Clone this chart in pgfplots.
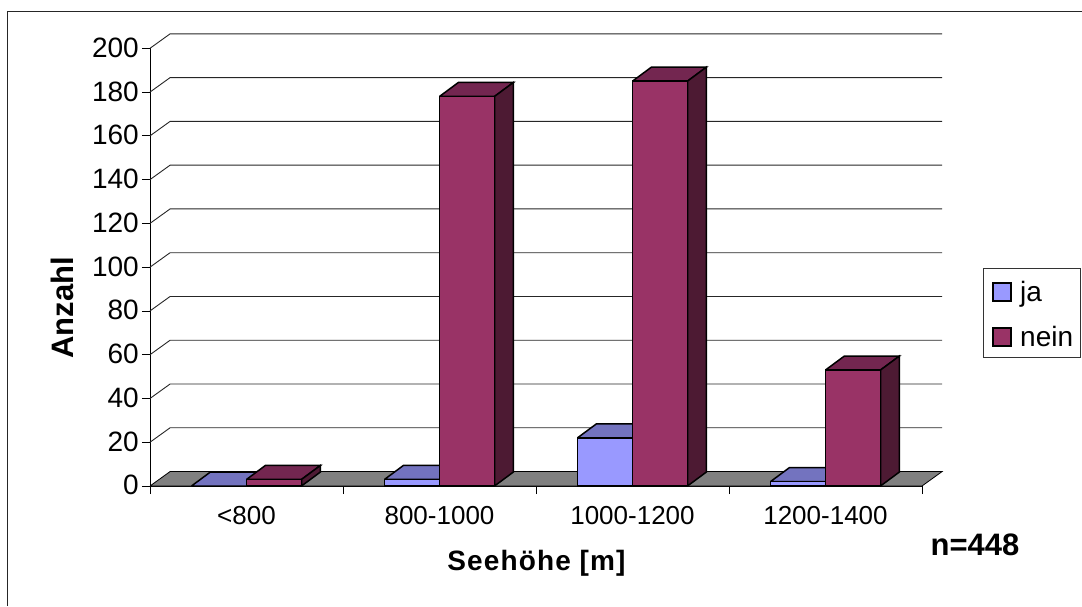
\documentclass[border=0pt]{standalone}
\usepackage{fontspec}
\setmainfont{Liberation Sans}
\usepackage{pgfplots}
\pgfplotsset{compat=1.18}
\definecolor{jaF}{HTML}{9999FF}\definecolor{jaT}{HTML}{7373BF}\definecolor{jaS}{HTML}{4D4D80}
\definecolor{neF}{HTML}{993366}\definecolor{neT}{HTML}{732650}\definecolor{neS}{HTML}{4D1A33}
\pgfplotsset{
 face/.style={forget plot,draw=black,line width=1.5pt,line join=miter,fill=#1},
 wall/.style={forget plot,draw=black!85,line width=0.9pt},
}
\begin{document}
\begin{tikzpicture}[x=1pt,y=1pt]
\path[use as bounding box] (0,0) rectangle (1082,-606);
\draw[black!85,line width=1pt] (7,-606) -- (7,-11) -- (1082,-11);
\begin{axis}[
  at={(150pt,-486pt)},anchor=south west,scale only axis,
  width=772pt,height=437.7pt,
  xmin=-0.5,xmax=3.5,ymin=0,ymax=200,clip=false,
  axis x line*=bottom,axis y line*=left,
  axis line style={-,black,line width=0.8pt},
  tick align=outside,tick style={black,line width=0.7pt},
  major tick length=8pt,
  xtick={-0.5,0.5,1.5,2.5,3.5},
  x tick label as interval,
  xticklabels={<800,800-1000,1000-1200,1200-1400},
  ytick={0,20,40,60,80,100,120,140,160,180,200},
  /pgf/number format/assume math mode=true,
  xticklabel style={font=\fontsize{26}{30}\selectfont,yshift=-9pt},
  yticklabel style={font=\fontsize{28}{32}\selectfont,inner sep=0pt,xshift=-3pt,yshift=0.7pt},
  xlabel={\addfontfeature{LetterSpace=4}Seehöhe [m]},
  ylabel={Anzahl},
  xlabel style={font=\fontsize{28}{32}\selectfont\bfseries,at={(axis description cs:0.5006,-0.176)},anchor=center},
  ylabel style={font=\fontsize{31}{36}\selectfont\bfseries,at={(axis description cs:-0.114,0.4067)},anchor=center},
]
% floor
\addplot[forget plot,fill=black!50,draw=black,line width=0.8pt] coordinates {(-0.5,0)(-0.396,6.6)(3.604,6.6)(3.5,0)(-0.5,0)};
% back wall grid lines
\addplot[wall] coordinates {(-0.5,20)(-0.396,26.6)(3.604,26.6)};
\addplot[wall] coordinates {(-0.5,40)(-0.396,46.6)(3.604,46.6)};
\addplot[wall] coordinates {(-0.5,60)(-0.396,66.6)(3.604,66.6)};
\addplot[wall] coordinates {(-0.5,80)(-0.396,86.6)(3.604,86.6)};
\addplot[wall] coordinates {(-0.5,100)(-0.396,106.6)(3.604,106.6)};
\addplot[wall] coordinates {(-0.5,120)(-0.396,126.6)(3.604,126.6)};
\addplot[wall] coordinates {(-0.5,140)(-0.396,146.6)(3.604,146.6)};
\addplot[wall] coordinates {(-0.5,160)(-0.396,166.6)(3.604,166.6)};
\addplot[wall] coordinates {(-0.5,180)(-0.396,186.6)(3.604,186.6)};
\addplot[wall] coordinates {(-0.5,200)(-0.396,206.6)(3.604,206.6)};
% <800 ja = 0
\addplot[face=jaT] coordinates {(-0.285,0)(0,0)(0.098,6.4)(-0.187,6.4)(-0.285,0)};
% <800 nein = 3
\addplot[face=neT] coordinates {(0,3)(0.285,3)(0.383,9.4)(0.098,9.4)(0,3)};
\addplot[face=neS] coordinates {(0.285,0)(0.383,6.4)(0.383,9.4)(0.285,3)(0.285,0)};
\addplot[face=neF] coordinates {(0,0)(0.285,0)(0.285,3)(0,3)(0,0)};
% 800-1000 ja = 3
\addplot[face=jaT] coordinates {(0.715,3)(1,3)(1.098,9.4)(0.813,9.4)(0.715,3)};
\addplot[face=jaF] coordinates {(0.715,0)(1,0)(1,3)(0.715,3)(0.715,0)};
% 800-1000 nein = 178
\addplot[face=neT] coordinates {(1,178)(1.285,178)(1.383,184.4)(1.098,184.4)(1,178)};
\addplot[face=neS] coordinates {(1.285,0)(1.383,6.4)(1.383,184.4)(1.285,178)(1.285,0)};
\addplot[face=neF] coordinates {(1,0)(1.285,0)(1.285,178)(1,178)(1,0)};
% 1000-1200 ja = 22
\addplot[face=jaT] coordinates {(1.715,22)(2,22)(2.098,28.4)(1.813,28.4)(1.715,22)};
\addplot[face=jaF] coordinates {(1.715,0)(2,0)(2,22)(1.715,22)(1.715,0)};
% 1000-1200 nein = 185
\addplot[face=neT] coordinates {(2,185)(2.285,185)(2.383,191.4)(2.098,191.4)(2,185)};
\addplot[face=neS] coordinates {(2.285,0)(2.383,6.4)(2.383,191.4)(2.285,185)(2.285,0)};
\addplot[face=neF] coordinates {(2,0)(2.285,0)(2.285,185)(2,185)(2,0)};
% 1200-1400 ja = 2
\addplot[face=jaT] coordinates {(2.715,2)(3,2)(3.098,8.4)(2.813,8.4)(2.715,2)};
\addplot[face=jaF] coordinates {(2.715,0)(3,0)(3,2)(2.715,2)(2.715,0)};
% 1200-1400 nein = 53
\addplot[face=neT] coordinates {(3,53)(3.285,53)(3.383,59.4)(3.098,59.4)(3,53)};
\addplot[face=neS] coordinates {(3.285,0)(3.383,6.4)(3.383,59.4)(3.285,53)(3.285,0)};
\addplot[face=neF] coordinates {(3,0)(3.285,0)(3.285,53)(3,53)(3,0)};
\end{axis}
% legend
\draw[black!80,line width=0.8pt,fill=white] (983,-268) rectangle (1080,-357);
\draw[black,line width=1.5pt,fill=jaF] (993,-283) rectangle (1011,-301);
\draw[black,line width=1.5pt,fill=neF] (993,-328) rectangle (1011,-346);
\node[anchor=base west,inner sep=0pt,font=\fontsize{28}{32}\selectfont] at (1020,-301) {ja};
\node[anchor=base west,inner sep=0pt,font=\fontsize{28}{32}\selectfont] at (1020,-346) {nein};
\node[anchor=center,font=\fontsize{31}{36}\selectfont\bfseries] at (975,-545) {n=448};
\end{tikzpicture}
\end{document}
